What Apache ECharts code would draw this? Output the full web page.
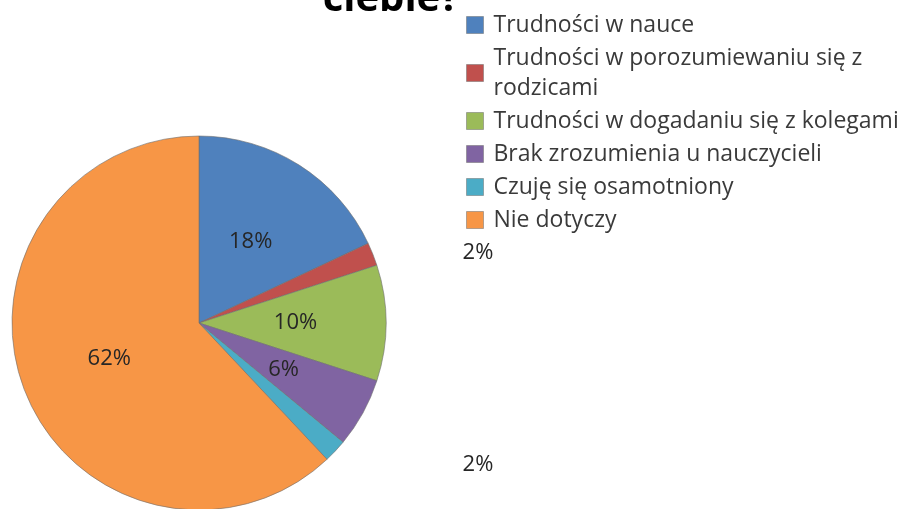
<!DOCTYPE html>
<html>
<head>
<meta charset="utf-8">
<script src="https://cdn.jsdelivr.net/npm/echarts@6/dist/echarts.min.js"></script>
<style>
  html, body { margin: 0; padding: 0; background: #fff; }
  #chart { width: 904px; height: 509px; }
</style>
</head>
<body>
<div id="chart"></div>
<script>
// dane z wykresu
const categories = [
  'Trudności w nauce',
  'Trudności w porozumiewaniu się z\nrodzicami',
  'Trudności w dogadaniu się z kolegami',
  'Brak zrozumienia u nauczycieli',
  'Czuję się osamotniony',
  'Nie dotyczy'
]
const values = [18, 2, 10, 6, 2, 62]
const colors = ['#4F81BD', '#C0504D', '#9BBB59', '#8064A2', '#4BACC6', '#F79646']

// pozycje etykiet 2% (poza kołem, po prawej)
const outerLabels = { 1: [478, 253], 4: [478, 465] }

const chart = echarts.init(document.getElementById('chart'))

const option = {
  animation: false,
  color: colors,
  title: {
    text: 'ciebie?',
    left: 386,
    textAlign: 'center',
    top: -25,
    textStyle: { fontFamily: 'Open Sans', fontWeight: 'bold', fontSize: 40, color: '#000' }
  },
  legend: {
    orient: 'vertical',
    left: 461,
    top: 5,
    itemWidth: 17,
    itemHeight: 17,
    itemGap: 3,
    icon: 'rect',
    data: categories,
    itemStyle: { borderColor: 'rgba(110,110,110,0.5)', borderWidth: 1 },
    textStyle: {
      fontFamily: 'Open Sans',
      fontSize: 23,
      color: '#3a3a3a',
      lineHeight: 30,
      padding: [0, 0, 0, 5]
    }
  },
  series: [
    {
      type: 'pie',
      center: [199, 323],
      radius: 187,
      startAngle: 90,
      clockwise: true,
      itemStyle: { borderColor: 'rgba(110,110,110,0.6)', borderWidth: 1 },
      label: {
        show: true,
        position: 'inside',
        formatter: '{c}%',
        fontFamily: 'Open Sans',
        fontSize: 22,
        color: '#262626'
      },
      labelLine: { show: false },
      labelLayout: params => {
        const p = outerLabels[params.dataIndex]
        if (p) return { x: p[0], y: p[1], align: 'center', verticalAlign: 'middle' }
      },
      emphasis: { disabled: true },
      data: categories.map((name, i) => ({ name, value: values[i] }))
    }
  ]
}

chart.setOption(option)
</script>
</body>
</html>
